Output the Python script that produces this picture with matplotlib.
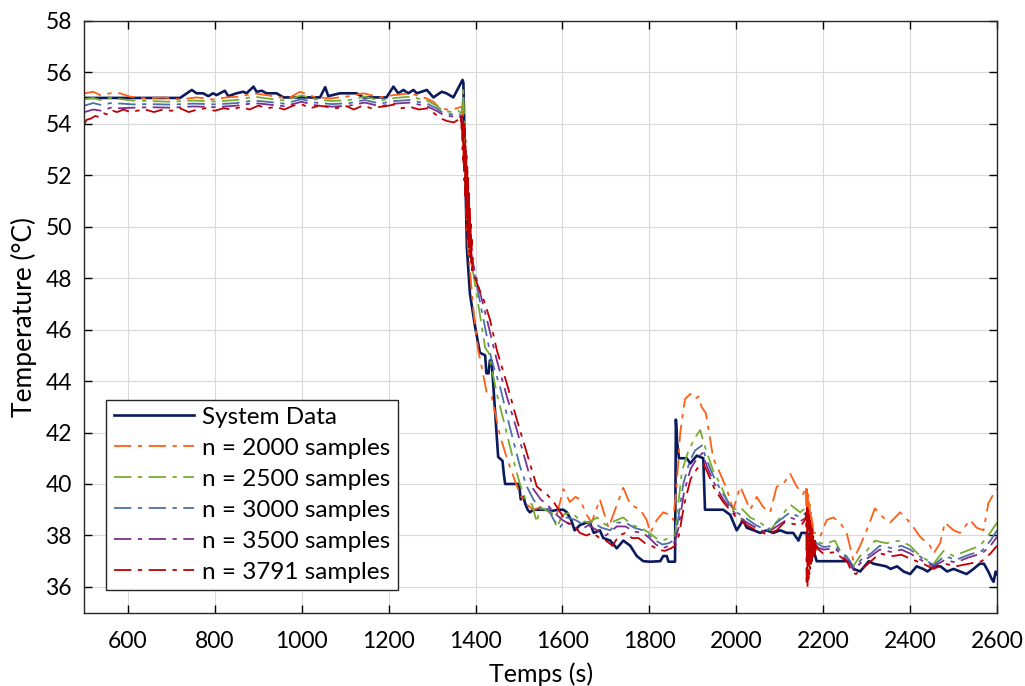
import numpy as np
import matplotlib.pyplot as plt

plt.rcParams['font.family'] = ['Lato', 'DejaVu Sans']

# System data (measured)
t_sys = [500, 720, 747, 758, 773, 785, 796, 804, 823, 831, 850, 865, 873, 889, 896, 908, 919, 942, 958,
         1042, 1054, 1061, 1088, 1103, 1126, 1142, 1195, 1211, 1222, 1234, 1245, 1257, 1265, 1288, 1303,
         1322, 1333, 1349, 1364, 1370, 1372, 1380, 1387, 1399, 1410, 1422, 1425, 1430, 1433, 1437, 1452,
         1462, 1465, 1468, 1500, 1504, 1510, 1515, 1520, 1525, 1533, 1560, 1575, 1590, 1602, 1610, 1620,
         1628, 1640, 1655, 1663, 1672, 1686, 1694, 1710, 1725, 1740, 1756, 1771, 1786, 1802, 1825, 1832,
         1840, 1844, 1859, 1861, 1864, 1868, 1886, 1894, 1909, 1924, 1928, 1970, 1986, 2001, 2016, 2024,
         2040, 2055, 2070, 2085, 2101, 2116, 2131, 2143, 2150, 2162, 2168, 2185, 2260, 2270, 2285, 2295,
         2305, 2316, 2330, 2345, 2355, 2370, 2385, 2400, 2415, 2430, 2440, 2455, 2470, 2485, 2500, 2515,
         2530, 2546, 2560, 2570, 2580, 2588, 2592, 2597, 2600]
temp_sys = [55.0, 55.0, 55.31, 55.18, 55.18, 55.07, 55.18, 55.11, 55.28, 55.07, 55.18, 55.24, 55.18, 55.44,
            55.24, 55.28, 55.18, 55.18, 55.02, 55.02, 55.42, 55.07, 55.18, 55.18, 55.18, 55.02, 55.02, 55.44,
            55.18, 55.31, 55.18, 55.31, 55.18, 55.31, 55.02, 55.24, 55.18, 55.02, 55.5, 55.7, 55.6, 49.2,
            47.4, 46.1, 45.1, 45.0, 44.3, 44.3, 44.8, 44.8, 41.05, 40.9, 40.4, 40.0, 40.0, 39.4, 39.5, 39.2,
            39.0, 38.9, 39.0, 39.0, 38.95, 39.0, 39.0, 38.9, 38.6, 38.2, 38.4, 38.5, 38.5, 38.1, 38.2, 37.9,
            37.8, 37.5, 37.8, 37.6, 37.2, 37.0, 36.98, 37.0, 37.2, 37.2, 36.98, 36.98, 42.5, 41.6, 41.0,
            41.0, 40.8, 41.1, 41.0, 39.0, 39.0, 38.8, 38.2, 38.6, 38.3, 38.2, 38.1, 38.2, 38.1, 38.2, 38.1,
            38.1, 37.8, 38.1, 38.1, 38.0, 37.0, 37.0, 36.7, 36.6, 36.8, 37.0, 36.9, 36.85, 36.8, 36.7, 36.8,
            36.6, 36.5, 36.8, 36.7, 36.6, 36.8, 36.8, 36.6, 36.7, 36.6, 36.5, 36.7, 36.9, 36.9, 36.6, 36.3,
            36.2, 36.6, 36.5]

# n = 2000 samples
t_n2000 = [500, 520, 536, 559, 582, 605, 643, 681, 720, 758, 796, 827, 858, 889, 919, 950, 973, 996, 1027,
           1065, 1103, 1142, 1180, 1211, 1249, 1287, 1303, 1318, 1341, 1357, 1368, 1372, 1378, 1382, 1395,
           1406, 1414, 1426, 1437, 1456, 1472, 1487, 1502, 1518, 1533, 1550, 1570, 1587, 1602, 1617, 1630,
           1640, 1656, 1667, 1686, 1706, 1721, 1740, 1756, 1779, 1794, 1802, 1817, 1832, 1848, 1855, 1863,
           1871, 1882, 1894, 1905, 1913, 1920, 1930, 1947, 1963, 1978, 1993, 2009, 2032, 2047, 2062, 2078,
           2093, 2108, 2124, 2139, 2154, 2160, 2162, 2163, 2164, 2165, 2166, 2167, 2168, 2169, 2170, 2171,
           2172, 2173, 2174, 2175, 2177, 2185, 2193, 2208, 2223, 2239, 2254, 2269, 2285, 2300, 2319, 2338,
           2354, 2377, 2400, 2423, 2446, 2454, 2469, 2480, 2500, 2515, 2538, 2553, 2569, 2580, 2595, 2600]
temp_n2000 = [55.18, 55.24, 55.11, 55.18, 55.18, 55.05, 54.98, 55.02, 54.94, 55.02, 54.94, 55.02, 55.05,
              55.18, 55.11, 55.02, 55.02, 55.24, 55.05, 54.98, 55.05, 55.18, 55.02, 55.11, 55.18, 54.98,
              54.85, 54.6, 54.53, 54.6, 54.66, 54.2, 51.0, 49.3, 46.76, 45.2, 44.56, 43.52, 43.4, 41.9,
              41.0, 40.3, 39.6, 39.2, 39.0, 39.1, 38.9, 38.8, 39.8, 39.3, 39.5, 39.4, 38.8, 38.5, 39.4,
              38.3, 39.0, 39.85, 39.2, 39.0, 38.6, 38.1, 38.6, 38.9, 38.8, 38.6, 40.0, 42.0, 43.3, 43.5,
              43.3, 43.4, 43.0, 42.75, 41.0, 40.4, 39.8, 39.0, 39.9, 39.0, 39.5, 39.1, 38.9, 39.9, 40.0,
              40.4, 39.9, 39.6, 39.9, 38.3, 39.8, 38.2, 39.6, 38.1, 39.4, 38.0, 39.2, 38.0, 38.9, 38.0,
              38.7, 38.0, 38.5, 38.1, 38.1, 37.95, 38.6, 38.7, 38.5, 38.1, 37.05, 37.6, 38.2, 39.05, 38.7,
              38.5, 38.9, 38.5, 37.95, 37.6, 37.3, 37.7, 38.5, 38.2, 38.1, 38.6, 38.3, 38.2, 39.25, 39.7,
              39.8]

# n = 2500 samples
t_n2500 = [500, 520, 540, 560, 585, 610, 650, 700, 750, 800, 850, 890, 920, 960, 1000, 1030, 1070, 1110,
           1145, 1180, 1215, 1250, 1290, 1310, 1325, 1345, 1360, 1368, 1372, 1378, 1385, 1406, 1422, 1430,
           1449, 1464, 1487, 1502, 1515, 1530, 1541, 1548, 1560, 1575, 1587, 1600, 1620, 1640, 1660, 1680,
           1700, 1725, 1740, 1760, 1780, 1800, 1815, 1830, 1845, 1859, 1865, 1875, 1890, 1905, 1917, 1925,
           1947, 1963, 1978, 1993, 2009, 2032, 2055, 2078, 2101, 2124, 2147, 2162, 2170, 2177, 2193, 2208,
           2227, 2239, 2254, 2269, 2285, 2300, 2319, 2345, 2377, 2400, 2423, 2454, 2477, 2500, 2530, 2561,
           2584, 2600]
temp_n2500 = [54.95, 55.0, 54.9, 55.0, 54.95, 54.9, 54.88, 54.85, 54.9, 54.86, 54.92, 55.05, 54.98, 54.9,
              55.1, 54.95, 54.88, 54.92, 55.05, 54.9, 55.0, 55.05, 54.88, 54.7, 54.5, 54.45, 54.5, 54.4,
              55.3, 51.5, 49.2, 47.0, 45.3, 45.1, 43.5, 42.5, 40.93, 40.0, 39.4, 39.2, 38.5, 39.1, 39.0,
              38.9, 38.3, 38.8, 38.9, 38.6, 38.5, 38.7, 38.4, 38.6, 38.7, 38.4, 38.3, 38.1, 37.9, 37.8,
              37.9, 38.0, 39.0, 40.5, 41.3, 41.8, 42.1, 41.6, 40.5, 40.0, 39.4, 39.0, 39.1, 38.7, 38.5,
              38.2, 38.7, 39.2, 38.9, 39.1, 38.3, 37.95, 37.7, 37.7, 37.8, 37.4, 37.2, 36.8, 37.2, 37.4,
              37.8, 37.7, 37.8, 37.6, 37.2, 36.9, 37.4, 37.2, 37.4, 37.6, 38.1, 38.5]

# n = 3000 samples
t_n3000 = [500, 520, 540, 560, 585, 610, 650, 700, 750, 800, 850, 890, 920, 960, 1000, 1030, 1070, 1110,
           1145, 1180, 1215, 1250, 1290, 1310, 1325, 1345, 1360, 1368, 1378, 1386, 1395, 1418, 1437, 1456,
           1479, 1502, 1518, 1533, 1550, 1565, 1580, 1594, 1610, 1630, 1650, 1670, 1690, 1710, 1725, 1745,
           1765, 1785, 1800, 1815, 1830, 1845, 1859, 1866, 1878, 1893, 1905, 1921, 1930, 1950, 1970, 1985,
           2000, 2020, 2045, 2070, 2093, 2124, 2147, 2162, 2172, 2185, 2200, 2227, 2245, 2260, 2270, 2290,
           2310, 2330, 2360, 2380, 2400, 2430, 2454, 2480, 2505, 2535, 2565, 2585, 2600]
temp_n3000 = [54.7, 54.8, 54.72, 54.8, 54.78, 54.75, 54.76, 54.74, 54.78, 54.75, 54.8, 54.9, 54.85, 54.78,
              54.95, 54.82, 54.76, 54.8, 54.92, 54.78, 54.88, 54.92, 54.76, 54.6, 54.42, 54.36, 54.4, 54.3,
              51.8, 49.2, 48.4, 46.4, 44.8, 43.8, 42.2, 40.7, 39.9, 39.4, 39.0, 39.1, 38.6, 38.3, 38.7,
              38.6, 38.4, 38.5, 38.3, 38.2, 38.5, 38.5, 38.3, 38.2, 38.0, 37.8, 37.65, 37.7, 37.85, 38.6,
              40.0, 40.9, 41.3, 41.5, 41.0, 40.2, 39.6, 39.2, 38.9, 38.7, 38.4, 38.2, 38.5, 38.9, 38.7,
              38.9, 38.0, 37.7, 37.55, 37.6, 37.3, 37.05, 36.75, 37.1, 37.3, 37.6, 37.5, 37.6, 37.45, 37.1,
              36.85, 37.2, 37.05, 37.25, 37.4, 37.8, 38.2]

# n = 3500 samples
t_n3500 = [500, 520, 540, 560, 585, 610, 650, 700, 750, 800, 850, 890, 920, 960, 1000, 1030, 1070, 1110,
           1145, 1180, 1215, 1250, 1290, 1310, 1325, 1345, 1360, 1368, 1380, 1388, 1399, 1426, 1449, 1472,
           1495, 1510, 1533, 1550, 1565, 1580, 1600, 1620, 1640, 1660, 1680, 1700, 1725, 1745, 1765, 1785,
           1800, 1815, 1830, 1845, 1859, 1867, 1880, 1895, 1910, 1922, 1932, 1950, 1970, 1985, 2000, 2020,
           2045, 2070, 2093, 2124, 2147, 2162, 2172, 2185, 2200, 2227, 2245, 2260, 2270, 2290, 2310, 2330,
           2360, 2380, 2400, 2430, 2454, 2480, 2505, 2535, 2565, 2585, 2600]
temp_n3500 = [54.45, 54.55, 54.5, 54.62, 54.6, 54.62, 54.64, 54.62, 54.67, 54.64, 54.7, 54.8, 54.75,
              54.68, 54.85, 54.72, 54.66, 54.7, 54.82, 54.68, 54.78, 54.82, 54.66, 54.5, 54.35, 54.28,
              54.32, 54.2, 51.5, 49.1, 48.2, 46.4, 44.8, 43.4, 42.1, 41.2, 39.8, 39.4, 39.2, 38.9, 38.6,
              38.4, 38.2, 38.4, 38.2, 38.0, 38.35, 38.35, 38.15, 38.1, 37.9, 37.65, 37.5, 37.6, 37.75,
              38.3, 39.7, 40.6, 41.0, 41.2, 40.7, 40.0, 39.4, 39.1, 38.8, 38.55, 38.3, 38.1, 38.35, 38.7,
              38.55, 38.7, 37.9, 37.55, 37.45, 37.5, 37.2, 36.95, 36.65, 37.0, 37.2, 37.45, 37.35, 37.45,
              37.3, 37.0, 36.8, 37.05, 36.95, 37.15, 37.3, 37.6, 37.95]

# n = 3791 samples
t_n3791 = [500, 505, 515, 525, 535, 545, 555, 565, 575, 590, 605, 620, 640, 660, 680, 700, 720, 740, 760,
           780, 800, 820, 840, 860, 880, 900, 920, 940, 960, 980, 1000, 1020, 1040, 1060, 1080, 1100, 1120,
           1140, 1160, 1180, 1200, 1215, 1230, 1250, 1270, 1290, 1305, 1320, 1335, 1350, 1360, 1366,
           1367, 1368, 1369, 1370, 1371, 1372, 1373, 1374, 1375, 1376, 1377, 1378, 1379, 1380, 1381,
           1382, 1383, 1384, 1385, 1386, 1387, 1388, 1389, 1390, 1391, 1392, 1393, 1394,
           1399, 1410, 1420, 1433, 1449, 1472, 1495, 1518, 1541, 1555, 1564, 1580, 1595, 1610, 1625,
           1640, 1655, 1670, 1685, 1700, 1715, 1730, 1745, 1760, 1775, 1790, 1805, 1820, 1835, 1850, 1859,
           1868, 1880, 1895, 1910, 1924, 1935, 1950, 1970, 1985, 2000, 2020, 2045, 2070, 2093, 2110, 2130,
           2150, 2158, 2160, 2161, 2162, 2163, 2164, 2165, 2166, 2167, 2168, 2169, 2170, 2171, 2172, 2173,
           2174, 2175, 2176, 2177, 2178, 2179, 2180, 2181, 2182, 2183, 2184, 2185, 2186,
           2200, 2227, 2245, 2255, 2265, 2275, 2290, 2310, 2330, 2360, 2380, 2400, 2430, 2454, 2480, 2505,
           2535, 2565, 2585, 2600]
temp_n3791 = [54.0, 54.15, 54.2, 54.3, 54.25, 54.4, 54.35, 54.5, 54.45, 54.55, 54.45, 54.5, 54.55, 54.45,
              54.55, 54.5, 54.6, 54.45, 54.55, 54.6, 54.5, 54.6, 54.55, 54.65, 54.55, 54.7, 54.6, 54.65,
              54.55, 54.7, 54.75, 54.6, 54.7, 54.65, 54.6, 54.7, 54.55, 54.7, 54.6, 54.65, 54.7, 54.75,
              54.6, 54.65, 54.55, 54.6, 54.4, 54.2, 54.1, 54.05, 54.15, 54.0,
              54.4, 53.8, 54.3, 53.0, 54.2, 52.4, 54.0, 51.8, 53.8, 51.2, 53.4, 50.6, 52.9, 50.0, 52.4,
              49.5, 51.9, 49.2, 51.3, 49.0, 50.7, 48.8, 50.1, 48.6, 49.5, 48.3, 48.8, 48.1,
              48.0, 47.5, 47.1, 46.4, 45.2, 43.9, 42.5, 41.2, 39.9, 39.7, 39.6, 39.3, 38.9, 38.5, 38.4,
              38.1, 38.0, 38.1, 37.9, 37.8, 37.6, 38.0, 38.1, 37.9, 37.9, 37.7, 37.6, 37.45, 37.4, 37.5,
              37.6, 38.0, 39.2, 40.2, 40.6, 40.8, 40.4, 39.8, 39.3, 39.0, 38.7, 38.45, 38.2, 38.05, 38.2,
              38.5, 38.45, 38.4, 38.6, 38.7, 38.9, 36.2, 39.2, 36.0, 39.0, 36.3, 38.8, 36.5, 38.6, 36.7,
              38.4, 36.9, 38.3, 37.0, 38.2, 37.1, 38.0, 37.2, 37.9, 37.3, 37.8, 37.4, 37.7, 37.5, 37.6,
              37.5, 37.3, 37.35, 37.1, 37.0, 36.6, 36.5, 36.7, 37.0, 37.3, 37.2, 37.25, 37.1, 36.9, 36.7,
              36.9, 36.8, 36.9, 37.0, 37.3, 37.6]

fig = plt.figure(figsize=(10.25, 6.86), dpi=100)
ax = fig.add_axes([0.0824, 0.1069, 0.8903, 0.8629])

dash = (9.6, 3.6, 2.4, 3.6)
ax.plot(t_sys, temp_sys, color='#0b1a5c', linewidth=1.9, label='System Data')
ax.plot(t_n2000, temp_n2000, color='#ff5f14', linewidth=1.3, dashes=dash, label='n = 2000 samples')
ax.plot(t_n2500, temp_n2500, color='#77ac30', linewidth=1.3, dashes=dash, label='n = 2500 samples')
ax.plot(t_n3000, temp_n3000, color='#4c6fa5', linewidth=1.3, dashes=dash, label='n = 3000 samples')
ax.plot(t_n3500, temp_n3500, color='#7e2f8e', linewidth=1.3, dashes=dash, label='n = 3500 samples')
ax.plot(t_n3791, temp_n3791, color='#c00000', linewidth=1.3, dashes=dash, label='n = 3791 samples')

ax.set_xlim(500, 2600)
ax.set_ylim(35, 58)
ax.set_xticks(np.arange(600, 2601, 200))
ax.set_yticks(np.arange(36, 59, 2))
ax.tick_params(direction='in', top=True, right=True, length=6, width=1, labelsize=16.5, pad=9)
ax.tick_params(axis='x', pad=13)
ax.grid(True, color='#d9d9d9', linewidth=0.8)
ax.set_axisbelow(True)
for s in ax.spines.values():
    s.set_linewidth(1.0)
    s.set_color('#262626')

ax.set_xlabel('Temps (s)', fontsize=18, labelpad=8)
ax.set_ylabel('Temperature (°C)', fontsize=19, labelpad=6)

leg = ax.legend(loc='lower left', bbox_to_anchor=(0.024, 0.038), fontsize=17.5, handlelength=3.3,
                frameon=True, fancybox=False, framealpha=1, edgecolor='#262626', borderaxespad=0,
                labelspacing=0.41, handletextpad=0.34, borderpad=0.3)
leg.get_frame().set_linewidth(1.0)

plt.savefig('out.png', dpi=100)
